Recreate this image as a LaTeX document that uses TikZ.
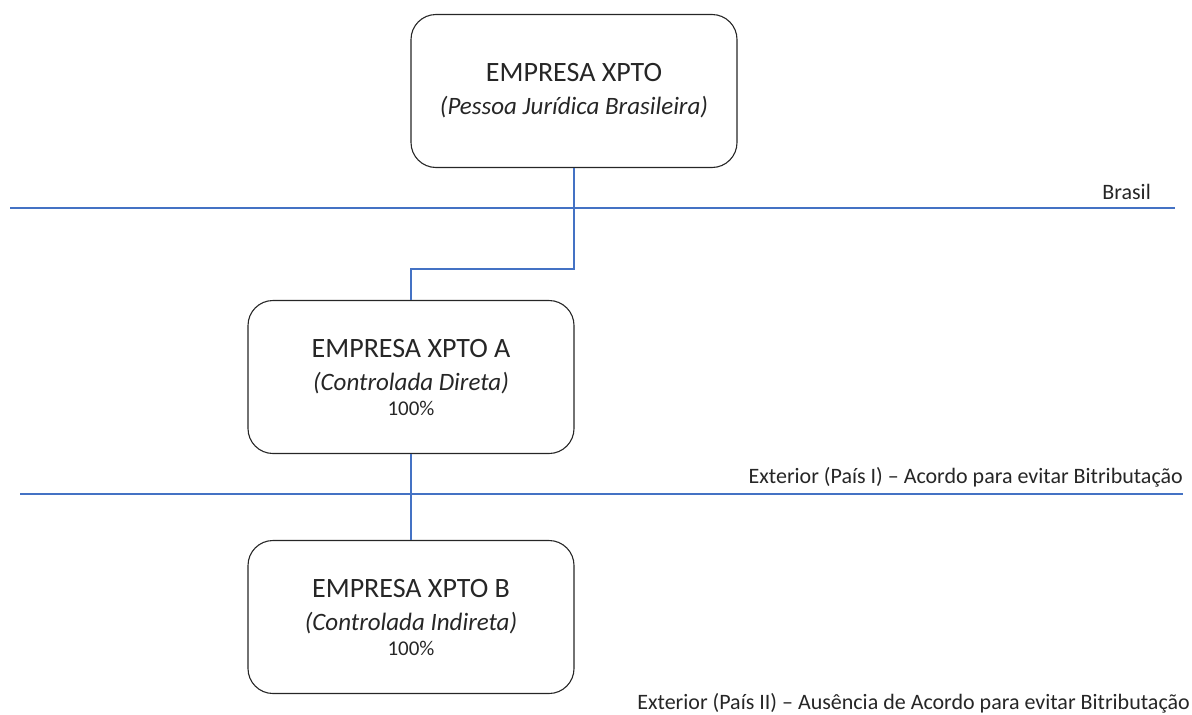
\documentclass[tikz,border=0pt]{standalone}
\usepackage{fontspec}
\setmainfont{Carlito}
\definecolor{lineblue}{HTML}{4472C4}
\definecolor{txt}{HTML}{262626}
\tikzset{
  ent/.style={draw=black!85, line width=1.1pt, rounded corners=25pt, minimum width=326pt, minimum height=153pt, align=center, inner sep=0pt, text=txt, font=\fontsize{25}{33}\selectfont},
  border/.style={draw=lineblue, line width=1.3pt},
  conn/.style={draw=lineblue, line width=1.3pt},
  zlabel/.style={anchor=base east, inner sep=0pt, text=txt, font=\fontsize{22}{24}\selectfont}
}
\begin{document}
\begin{tikzpicture}[x=1pt,y=-1pt]
\useasboundingbox (0,0) rectangle (1192,715);
\node[ent] (top) at (574,91) {{\fontsize{28}{33}\selectfont EMPRESA XPTO}\\\textit{(Pessoa Jurídica Brasileira)}};
\node[ent] (a) at (411,377) {{\fontsize{28}{33}\selectfont EMPRESA XPTO A}\\\textit{(Controlada Direta)}\\[-8pt]{\fontsize{21}{24}\selectfont 100\%}};
\node[ent] (b) at (411,617) {{\fontsize{28}{33}\selectfont EMPRESA XPTO B}\\\textit{(Controlada Indireta)}\\[-8pt]{\fontsize{21}{24}\selectfont 100\%}};
\coordinate (l1a) at (10,208); \coordinate (l1b) at (1175,208);
\coordinate (l2a) at (20,494); \coordinate (l2b) at (1183,494);
\draw[border] (l1a) -- (l1b);
\draw[border] (l2a) -- (l2b);
\node[zlabel] (lb1) at (1151,199) {Brasil};
\node[zlabel] (lb2) at (1183,483) {Exterior (País I) – Acordo para evitar Bitributação};
\node[zlabel] (lb3) at (1190,709) {Exterior (País II) – Ausência de Acordo para evitar Bitributação};
\coordinate (mid) at (574,269);
\draw[conn] (top.south) -- (mid) -| (a.north);
\draw[conn] (a.south) -- (b.north);
\end{tikzpicture}
\end{document}
